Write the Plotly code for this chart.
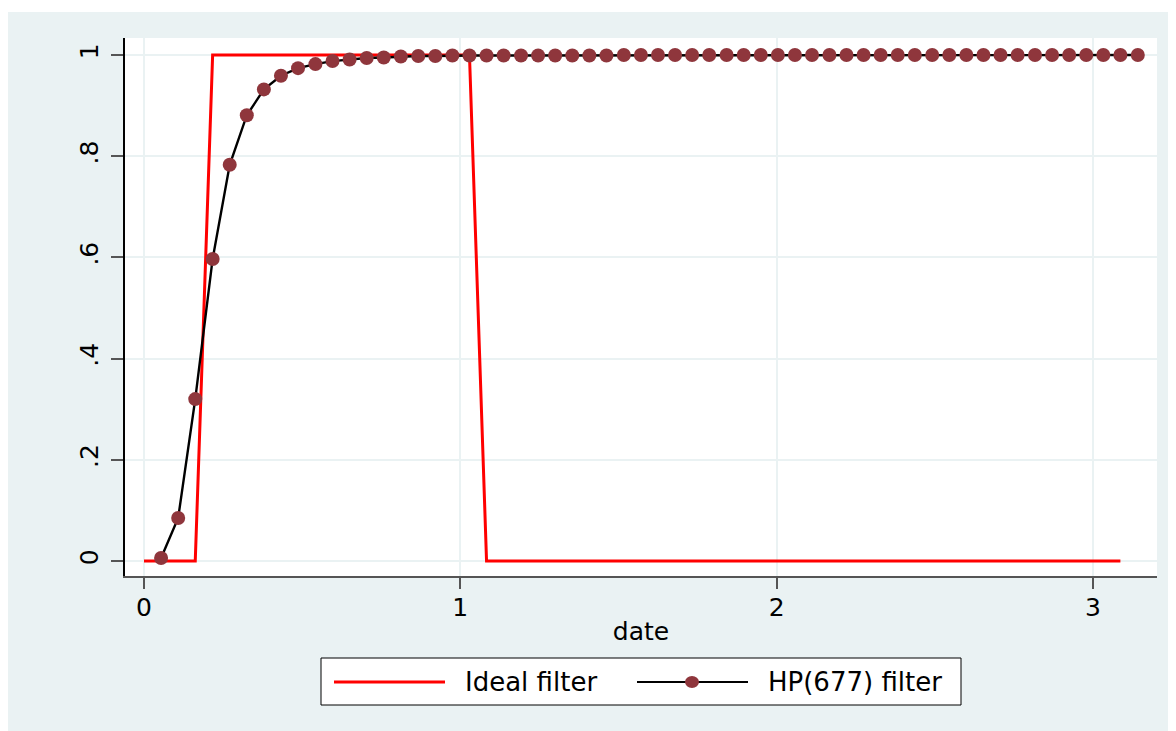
import plotly.graph_objects as go

# ---- data ----
date = [0.000, 0.054, 0.108, 0.162, 0.217, 0.271, 0.325, 0.379, 0.433, 0.487,
        0.542, 0.596, 0.650, 0.704, 0.758, 0.812, 0.867, 0.921, 0.975, 1.029,
        1.083, 1.137, 1.192, 1.246, 1.300, 1.354, 1.408, 1.462, 1.517, 1.571,
        1.625, 1.679, 1.733, 1.787, 1.842, 1.896, 1.950, 2.004, 2.058, 2.112,
        2.167, 2.221, 2.275, 2.329, 2.383, 2.437, 2.492, 2.546, 2.600, 2.654,
        2.708, 2.762, 2.817, 2.871, 2.925, 2.979, 3.033, 3.087, 3.142]

ideal_date = date[:58]
ideal_filter = [0, 0, 0, 0,
                1, 1, 1, 1, 1, 1, 1, 1, 1, 1, 1, 1, 1, 1, 1, 1,
                0, 0, 0, 0, 0, 0, 0, 0, 0, 0, 0, 0, 0, 0, 0, 0, 0, 0, 0,
                0, 0, 0, 0, 0, 0, 0, 0, 0, 0, 0, 0, 0, 0, 0, 0, 0, 0, 0]

hp_date = date[1:]
hp_filter = [0.006, 0.085, 0.320, 0.597, 0.783, 0.881, 0.932, 0.959, 0.974, 0.982,
             0.988, 0.991, 0.994, 0.995, 0.997, 0.998, 0.998, 0.999, 0.999, 0.999,
             0.999, 0.999, 0.999, 0.999, 0.999, 0.999, 0.999, 1.000, 1.000, 1.000,
             1.000, 1.000, 1.000, 1.000, 1.000, 1.000, 1.000, 1.000, 1.000, 1.000,
             1.000, 1.000, 1.000, 1.000, 1.000, 1.000, 1.000, 1.000, 1.000, 1.000,
             1.000, 1.000, 1.000, 1.000, 1.000, 1.000, 1.000, 1.000]

x_ticks = [0, 1, 2, 3]
x_ticklabels = ["0", "1", "2", "3"]
y_ticks = [0, 0.2, 0.4, 0.6, 0.8, 1.0]
y_ticklabels = ["0", ".2", ".4", ".6", ".8", "1"]
series_names = ["Ideal filter", "HP(677) filter"]

# ---- styling ----
FONT = "DejaVu Sans"
FS = 25
BG = "#EAF2F3"
GRID = "#EAF2F3"
RED = "#FF0000"
MARK = "#8F363C"

OFF = 8  # page body margin
W, H = 1176, 731
L, T = 117, 30
R = W - 1149
B = H - 568
PW, PH = W - L - R, H - T - B


def px(x):  # page pixel -> paper
    return (x - OFF - L) / PW


def py(y):
    return (H - B - (y - OFF)) / PH


fig = go.Figure()
fig.add_trace(go.Scatter(x=ideal_date, y=ideal_filter, mode="lines",
                         line=dict(color=RED, width=3),
                         name=series_names[0], showlegend=False))
fig.add_trace(go.Scatter(x=hp_date, y=hp_filter, mode="lines+markers",
                         line=dict(color="black", width=2.4),
                         marker=dict(color=MARK, size=14, line=dict(width=0)),
                         name=series_names[1], showlegend=False))

shapes = [
    # thin white strip at the top of the grey background
    dict(type="rect", xref="paper", yref="paper", x0=px(-5), x1=px(W + 20),
         y0=py(12), y1=py(-5), fillcolor="white", line=dict(width=0), layer="below"),
    # legend box
    dict(type="rect", xref="paper", yref="paper", x0=px(321), x1=px(961),
         y0=py(705), y1=py(658), fillcolor="white", line=dict(color="black", width=1)),
    dict(type="line", xref="paper", yref="paper", x0=px(334), x1=px(445),
         y0=py(682), y1=py(682), line=dict(color=RED, width=3)),
    dict(type="line", xref="paper", yref="paper", x0=px(637), x1=px(748),
         y0=py(682), y1=py(682), line=dict(color="black", width=2.2)),
    dict(type="circle", xref="paper", yref="paper", x0=px(692 - 7), x1=px(692 + 7),
         y0=py(682 + 6), y1=py(682 - 6), fillcolor=MARK, line=dict(width=0)),
]

annotations = [
    dict(text=series_names[0], xref="paper", yref="paper", x=px(463), y=py(682),
         xanchor="left", yanchor="middle", showarrow=False,
         font=dict(family=FONT, size=26, color="black")),
    dict(text=series_names[1], xref="paper", yref="paper", x=px(766), y=py(682),
         xanchor="left", yanchor="middle", showarrow=False,
         font=dict(family=FONT, size=26, color="black")),
]

fig.update_layout(
    width=W, height=H,
    margin=dict(l=L, r=R, t=T, b=B, pad=0),
    paper_bgcolor=BG, plot_bgcolor="white",
    font=dict(family=FONT, size=FS, color="black"),
    shapes=shapes, annotations=annotations,
    showlegend=False,
    xaxis=dict(range=[-0.0601, 3.2027], tickvals=x_ticks, ticktext=x_ticklabels,
               showgrid=True, gridcolor=GRID, gridwidth=2, zeroline=False,
               showline=True, linecolor="#555555", linewidth=1.5,
               ticks="outside", ticklen=11, tickwidth=1.5, tickcolor="#555555",
               ticklabelstandoff=-3,
               title=dict(text="date", standoff=2, font=dict(family=FONT, size=FS))),
    yaxis=dict(range=[-0.0296, 1.0336], tickvals=y_ticks, ticktext=y_ticklabels,
               showgrid=True, gridcolor=GRID, gridwidth=2, zeroline=False,
               showline=True, linecolor="black", linewidth=1.5,
               ticks="outside", ticklen=12, tickwidth=1.5, tickcolor="#555555",
               tickangle=-90, ticklabelstandoff=3),
)

fig.write_html("out.html")
